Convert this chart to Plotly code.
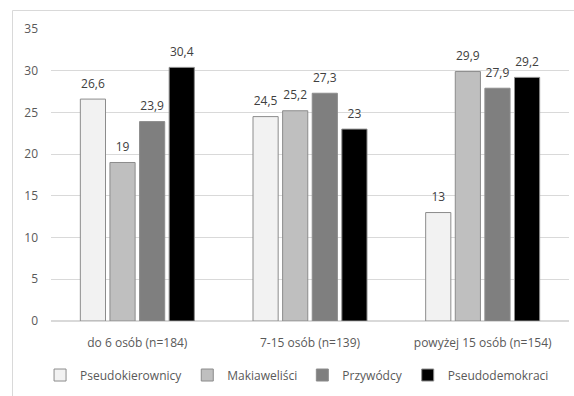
import plotly.graph_objects as go

categories = ["do 6 osób (n=184)", "7-15 osób (n=139)", "powyżej 15 osób (n=154)"]
series_names = ["Pseudokierownicy", "Makiaweliści", "Przywódcy", "Pseudodemokraci"]
pseudokierownicy = [26.6, 24.5, 13.0]
makiawelisci = [19.0, 25.2, 29.9]
przywodcy = [23.9, 27.3, 27.9]
pseudodemokraci = [30.4, 23.0, 29.2]
y_ticks = [0, 5, 10, 15, 20, 25, 30, 35]

series_values = [pseudokierownicy, makiawelisci, przywodcy, pseudodemokraci]
fills = ["#f2f2f2", "#bfbfbf", "#7f7f7f", "#000000"]


def fmt(v):
    s = f"{v:.1f}".rstrip("0").rstrip(".")
    return s.replace(".", ",")


FONT = "Open Sans"
W, H = 574, 396
L, R, T, B = 51, 5, 29, 75
GAP = 0.314

fig = go.Figure()
for name, vals, col in zip(series_names, series_values, fills):
    fig.add_trace(go.Bar(
        name=name, x=categories, y=vals,
        marker=dict(color=col, line=dict(color="#8c8c8c", width=1)),
    ))

# value labels, grouped the same way as the bars and lifted a little above them
for name, vals in zip(series_names, series_values):
    fig.add_trace(go.Scatter(
        x=categories, y=vals, mode="markers+text",
        marker=dict(size=12, opacity=0),
        text=[fmt(v) for v in vals], textposition="top center",
        textfont=dict(family=FONT, size=12, color="#404040"),
        showlegend=False, hoverinfo="skip", cliponaxis=False,
    ))

pw = W - L - R
ph = H - T - B
fig.add_shape(type="rect", xref="paper", yref="paper",
              x0=(12.5 - L) / pw, x1=(W + 5 - L) / pw,
              y0=-(H + 5 - (H - B)) / ph, y1=((H - B) - 10.5) / ph,
              line=dict(color="#d9d9d9", width=1), fillcolor="rgba(0,0,0,0)",
              layer="below")

fig.update_layout(
    width=W, height=H,
    margin=dict(l=L, r=R, t=T, b=B, autoexpand=False),
    paper_bgcolor="white", plot_bgcolor="white",
    barmode="group", bargap=GAP, bargroupgap=0.15,
    scattermode="group", scattergap=GAP,
    font=dict(family=FONT, size=12, color="#595959"),
    showlegend=True,
    legend=dict(orientation="h", x=0.475, xanchor="center", y=-0.185, yanchor="middle",
                font=dict(family=FONT, size=12, color="#595959"),
                itemwidth=30, tracegroupgap=0),
    xaxis=dict(showgrid=False, showline=False, ticks="", tickfont=dict(size=12, color="#595959"),
               ticklabelstandoff=13),
    yaxis=dict(range=[0, 35], tickvals=y_ticks, showgrid=True, gridcolor="#d9d9d9",
               gridwidth=1, zeroline=True, zerolinecolor="#d9d9d9", showline=False,
               ticks="", tickfont=dict(size=12, color="#595959"), ticklabelstandoff=12),
)

fig.write_html("out.html")
